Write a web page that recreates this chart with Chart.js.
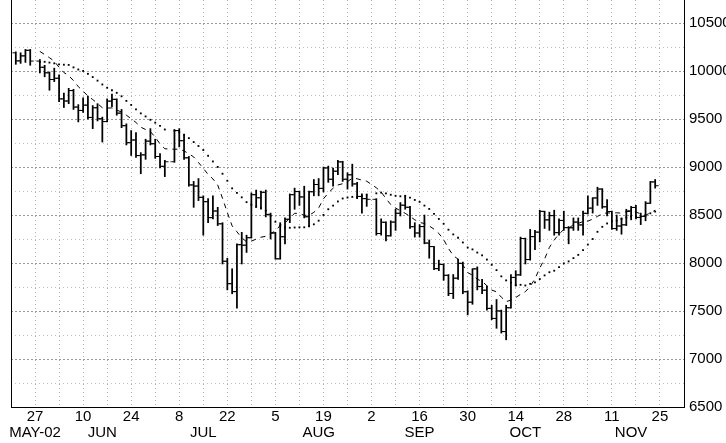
<!DOCTYPE html>
<html>
<head>
<meta charset="utf-8">
<script src="https://cdn.jsdelivr.net/npm/chart.js@4.4.1/dist/chart.umd.min.js"></script>
<style>
  html, body { margin: 0; padding: 0; background: #fff; }
  canvas { display: block; }
</style>
</head>
<body>
<canvas id="chart" width="726" height="443"></canvas>
<script>
// Daily bar chart, May 21 - Nov 22 2002, with a 10-day (dashed) and 20-day (dotted) average.

const dates = [
  '05-21','05-22','05-23','05-24','05-28','05-29','05-30','05-31',
  '06-03','06-04','06-05','06-06','06-07','06-10','06-11','06-12','06-13','06-14',
  '06-17','06-18','06-19','06-20','06-21','06-24','06-25','06-26','06-27','06-28',
  '07-01','07-02','07-03','07-05','07-08','07-09','07-10','07-11','07-12',
  '07-15','07-16','07-17','07-18','07-19','07-22','07-23','07-24','07-25','07-26',
  '07-29','07-30','07-31',
  '08-01','08-02','08-05','08-06','08-07','08-08','08-09','08-12','08-13','08-14','08-15','08-16',
  '08-19','08-20','08-21','08-22','08-23','08-26','08-27','08-28','08-29','08-30',
  '09-03','09-04','09-05','09-06','09-09','09-10','09-11','09-12','09-13',
  '09-16','09-17','09-18','09-19','09-20','09-23','09-24','09-25','09-26','09-27','09-30',
  '10-01','10-02','10-03','10-04','10-07','10-08','10-09','10-10','10-11',
  '10-14','10-15','10-16','10-17','10-18','10-21','10-22','10-23','10-24','10-25',
  '10-28','10-29','10-30','10-31',
  '11-01','11-04','11-05','11-06','11-07','11-08','11-11','11-12','11-13','11-14','11-15',
  '11-18','11-19','11-20','11-21','11-22'
];

const opens = [
  10190,10106,10158,10216,10104,10040,9982,9912,
  9925,9710,9688,9797,9625,9590,9645,9517,9618,9503,
  9474,9687,9706,9562,9431,9254,9282,9120,9127,9270,
  9243,9110,9008,9055,9380,9275,9096,8814,8802,
  8685,8639,8473,8542,8409,8019,7785,7702,8191,8186,
  8264,8712,8680,
  8737,8507,8313,8044,8274,8456,8712,8745,8689,8482,8743,8818,
  8778,8991,8873,8957,9054,8873,8919,8824,8694,8671,
  8664,8308,8425,8284,8427,8519,8603,8581,8379,
  8313,8380,8208,8172,7942,7986,7872,7683,7842,7997,7701,
  7592,7939,7756,7717,7528,7423,7501,7286,7534,
  7850,7877,8256,8036,8275,8322,8538,8450,8494,8317,
  8444,8369,8368,8427,
  8397,8518,8572,8678,8771,8586,8537,8359,8386,8398,8542,
  8579,8475,8487,8623,8845
];

const highs = [
  10200,10190,10225,10225,10120,10060,9990,10030,
  9960,9770,9820,9810,9650,9720,9740,9640,9660,9520,
  9710,9760,9710,9600,9450,9380,9360,9150,9290,9400,
  9290,9140,9070,9390,9400,9330,9110,8850,8880,
  8700,8670,8700,8580,8420,8050,7940,8200,8320,8290,
  8730,8760,8750,
  8760,8520,8320,8420,8470,8720,8780,8750,8800,8750,8870,8880,
  9000,9010,8990,9070,9060,8940,9030,8840,8720,8710,
  8670,8460,8430,8440,8560,8630,8700,8590,8420,
  8400,8500,8240,8175,8030,7990,7880,7880,8040,8010,7710,
  7940,7960,7830,7760,7560,7620,7510,7560,7880,
  7920,8270,8260,8350,8340,8550,8540,8530,8550,8460,
  8540,8380,8470,8470,
  8540,8700,8680,8790,8775,8660,8540,8500,8470,8560,8590,
  8600,8520,8640,8850,8870
];

const lows = [
  10070,10080,10090,10060,9980,9940,9800,9890,
  9680,9620,9660,9600,9470,9570,9500,9400,9480,9260,
  9470,9630,9540,9410,9230,9120,9100,8930,9080,9230,
  9090,8990,8900,9050,9210,9080,8800,8580,8650,
  8290,8420,8460,8390,7990,7720,7680,7530,7990,8110,
  8260,8580,8560,
  8480,8250,8040,8040,8200,8420,8560,8600,8470,8380,8700,8700,
  8740,8840,8800,8920,8850,8770,8800,8670,8520,8590,
  8290,8290,8230,8280,8340,8490,8560,8360,8270,
  8270,8200,8050,7930,7920,7820,7660,7630,7830,7680,7460,
  7570,7720,7680,7510,7410,7320,7270,7200,7530,
  7760,7870,7990,8030,8140,8220,8360,8340,8290,8290,
  8340,8200,8340,8340,
  8290,8510,8520,8600,8570,8490,8350,8340,8300,8390,8450,
  8460,8400,8440,8620,8780
];

const closes = [
  10106,10158,10216,10104,10040,9982,9912,9925,
  9710,9688,9797,9625,9590,9645,9517,9618,9503,9474,
  9687,9706,9562,9431,9254,9282,9120,9127,9270,9243,
  9110,9008,9055,9380,9275,9096,8814,8802,8685,
  8639,8473,8542,8409,8019,7785,7702,8191,8186,8264,
  8712,8680,8737,
  8507,8313,8044,8274,8456,8712,8745,8689,8482,8743,8818,8778,
  8991,8873,8957,9054,8873,8919,8824,8694,8671,8664,
  8308,8425,8284,8427,8519,8603,8581,8379,8313,
  8380,8208,8172,7942,7986,7872,7683,7842,7997,7701,7592,
  7939,7756,7717,7528,7423,7501,7286,7534,7850,
  7877,8256,8036,8275,8322,8538,8450,8494,8317,8444,
  8369,8368,8427,8397,
  8518,8572,8678,8771,8586,8537,8359,8386,8398,8542,8579,
  8475,8487,8623,8845,8805
];

// averages start on May 28 (5th bar)
const avg10 = [
  10204,10172,10139,10103,10038,9984,9953,9900,9837,9791,
  9739,9703,9662,9617,9614,9616,9593,9573,9540,9503,
  9464,9415,9391,9368,9311,9241,9190,9185,9187,9168,
  9138,9105,9047,8986,8923,8876,8812,8675,8526,8387,
  8325,8263,8221,8228,8249,8269,8278,8308,8334,8391,
  8417,8470,8518,8516,8496,8497,8528,8574,8669,8729,
  8779,8813,8826,8849,8883,8878,8863,8852,8784,8739,
  8672,8609,8574,8542,8518,8486,8450,8422,8412,8387,
  8352,8308,8244,8152,8078,8040,7978,7900,7873,7831,
  7809,7763,7718,7700,7644,7598,7613,7641,7673,7701,
  7757,7836,7948,8042,8163,8242,8301,8350,8361,8400,
  8413,8432,8436,8458,8486,8513,8522,8521,8523,8520,
  8535,8541,8531,8512,8497,8523,8550
];

const avg20 = [
  10094,10096,10088,10080,10069,10066,10064,10038,10016,10001,
  9971,9937,9900,9860,9826,9800,9773,9737,9689,9647,
  9601,9559,9527,9492,9462,9428,9391,9379,9363,9336,
  9301,9260,9219,9177,9117,9058,9001,8930,8857,8778,
  8731,8684,8634,8607,8586,8572,8545,8492,8430,8389,
  8371,8367,8370,8372,8372,8383,8403,8441,8501,8560,
  8598,8641,8672,8682,8689,8687,8696,8713,8726,8734,
  8725,8711,8700,8695,8700,8682,8657,8637,8598,8563,
  8512,8459,8409,8347,8298,8263,8214,8161,8142,8109,
  8080,8036,7981,7926,7861,7819,7795,7770,7773,7766,
  7783,7799,7833,7871,7904,7920,7957,7996,8017,8051,
  8085,8134,8192,8250,8325,8377,8412,8436,8442,8460,
  8474,8487,8483,8485,8492,8518,8536
];

const yTicks = [6500,6750,7000,7250,7500,7750,8000,8250,8500,8750,9000,9250,9500,9750,10000,10250,10500];
const dayLabels = ['27','10','24','8','22','5','19','2','16','30','14','28','11','25'];
const monthLabels = ['MAY-02','JUN','JUL','AUG','SEP','OCT','NOV'];
const monthAt = ['05-27','06-14','07-15','08-16','09-16','10-16','11-15'];

// x is a weekday slot: Monday May 27 = 0, five slots a week (holidays stay empty)
const MONDAY = Date.UTC(2002, 4, 27);
function slot(md) {
  const [m, d] = md.split('-').map(Number);
  const days = Math.round((Date.UTC(2002, m - 1, d) - MONDAY) / 864e5);
  const w = Math.floor(days / 7);
  return w * 5 + (days - w * 7);
}

function tickMark(side) {
  const c = document.createElement('canvas');
  c.width = 8; c.height = 3;
  const g = c.getContext('2d');
  g.fillStyle = '#000';
  g.fillRect(side < 0 ? 0.5 : 4, 1, 3.5, 1);
  return c;
}

// keep the plot box exactly where the axes are told to be
function noPad(s) { s.paddingTop = s.paddingBottom = s.paddingLeft = s.paddingRight = 0; }

const xs = dates.map(slot);
const FONT = { family: 'Liberation Sans, Arial, sans-serif', size: 15 };
const weekSlots = [];
for (let w = 0; w <= 26; w++) weekSlots.push(w * 5);
const axes = { xAxisID: 'x', yAxisID: 'y' };

new Chart(document.getElementById('chart'), {
  type: 'bar',
  data: {
    datasets: [
      {
        ...axes, type: 'bar',
        data: xs.map((x, i) => ({ x, y: [lows[i], highs[i]] })),
        backgroundColor: '#000',
        barThickness: 1.1,
        grouped: false,
        borderWidth: 0
      },
      {
        ...axes, type: 'line',
        data: xs.map((x, i) => ({ x, y: opens[i] })),
        showLine: false,
        pointStyle: tickMark(-1),
        pointRadius: 2
      },
      {
        ...axes, type: 'line',
        data: xs.map((x, i) => ({ x, y: closes[i] })),
        showLine: false,
        pointStyle: tickMark(1),
        pointRadius: 2
      },
      {
        ...axes, type: 'line',
        data: avg10.map((v, i) => ({ x: xs[i + 4], y: v })),
        borderColor: '#000',
        borderWidth: 1,
        borderDash: [5, 5],
        pointRadius: 0,
        tension: 0
      },
      {
        ...axes, type: 'line',
        data: avg20.map((v, i) => ({ x: xs[i + 4], y: v })),
        showLine: false,
        pointStyle: 'rect',
        pointRadius: 1.3,
        pointBackgroundColor: '#000',
        pointBorderWidth: 0
      }
    ]
  },
  options: {
    responsive: false,
    animation: false,
    devicePixelRatio: 1,
    events: [],
    layout: { padding: { left: 11, right: 0, top: 0, bottom: 0 }, autoPadding: false },
    plugins: { legend: { display: false }, tooltip: { enabled: false } },
    scales: {
      x: {
        type: 'linear', position: 'bottom', weight: 0,
        min: -5, max: 135, offset: false,
        afterBuildTicks: s => { s.ticks = weekSlots.map(v => ({ value: v })); },
        afterFit: s => { s.height = 17; noPad(s); },
        grid: { color: '#b4b4b4', drawTicks: false, offset: false },
        border: { display: true, color: '#000', dash: [1, 3] },
        ticks: {
          autoSkip: false, maxRotation: 0, padding: 1, color: '#000', font: FONT,
          callback: v => (v / 5) % 2 === 0 ? dayLabels[v / 10] : ''
        }
      },
      xm: {
        type: 'linear', position: 'bottom', weight: 1,
        min: -5, max: 135, offset: false,
        afterBuildTicks: s => { s.ticks = monthAt.map(d => ({ value: slot(d) })); },
        afterFit: s => { s.height = 19; noPad(s); },
        grid: { display: false, drawTicks: false },
        border: { display: false },
        ticks: {
          autoSkip: false, maxRotation: 0, padding: 0, color: '#000', font: FONT,
          callback: (v, i) => monthLabels[i]
        }
      },
      y: {
        type: 'linear', position: 'right',
        min: 6500, max: 10740,
        afterBuildTicks: s => { s.ticks = yTicks.map(v => ({ value: v })); },
        afterFit: s => { s.width = 42; noPad(s); },
        grid: {
          drawTicks: false,
          color: c => (c.tick && c.tick.value % 500 === 0) ? '#9a9a9a' : '#bdbdbd'
        },
        border: {
          color: '#000',
          dash: c => (c.tick && c.tick.value % 500 === 0) ? [2, 2] : [1, 3]
        },
        ticks: {
          padding: 5, color: '#000', font: FONT,
          callback: v => v % 500 === 0 ? String(v) : ''
        }
      },
      yl: {
        type: 'linear', position: 'left', min: 0, max: 1,
        afterFit: s => { s.width = 0; noPad(s); },
        grid: { display: false, drawTicks: false },
        border: { display: true, color: '#000' },
        ticks: { display: false }
      }
    }
  }
});
</script>
</body>
</html>
